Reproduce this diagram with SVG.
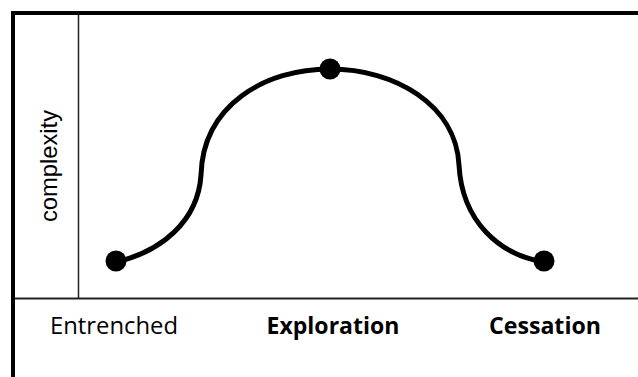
<svg xmlns="http://www.w3.org/2000/svg" width="638" height="377" viewBox="0 0 638 377">
<style>
.frame{stroke:#000;stroke-width:4;fill:none}
.axis{stroke:#222;stroke-width:2;fill:none}
.yaxis{stroke:#222;stroke-width:1.5;fill:none}
.curve{stroke:#000;stroke-width:5;fill:none;stroke-linecap:round}
.dot{fill:#000}
.lbl{font-family:"Open Sans","Liberation Sans",sans-serif;font-size:23px;fill:#000}
.b{font-weight:bold}
.ylbl{font-family:"Liberation Sans",Arial,sans-serif;font-size:24px;fill:#000}
</style>
<rect x="0" y="0" width="638" height="377" fill="#fff"/>
<g id="frame">
<path class="frame" d="M13,377 V13 H638"/>
<line class="axis" x1="15" y1="298.5" x2="638" y2="298.5"/>
<line class="yaxis" x1="78.5" y1="15" x2="78.5" y2="298"/>
</g>
<g id="connectors">
<path class="curve" d="M116,262 C160,252 198,222 201,175 C203,105 265,69 330,69 C395,69 456,105 459,165 C462,222 500,255 544,262"/>
</g>
<g id="entrenched">
<circle class="dot" cx="116" cy="261" r="10.5"/>
<text class="lbl" x="50" y="334" textLength="128" lengthAdjust="spacingAndGlyphs">Entrenched</text>
</g>
<g id="exploration">
<circle class="dot" cx="330" cy="69" r="10.5"/>
<text class="lbl b" x="266.5" y="334" textLength="133" lengthAdjust="spacingAndGlyphs">Exploration</text>
</g>
<g id="cessation">
<circle class="dot" cx="544" cy="261" r="10.5"/>
<text class="lbl b" x="489" y="334" textLength="112" lengthAdjust="spacingAndGlyphs">Cessation</text>
</g>
<g id="ylabel">
<text class="ylbl" transform="translate(57,222) rotate(-90)" textLength="112" lengthAdjust="spacingAndGlyphs">complexity</text>
</g>
</svg>
